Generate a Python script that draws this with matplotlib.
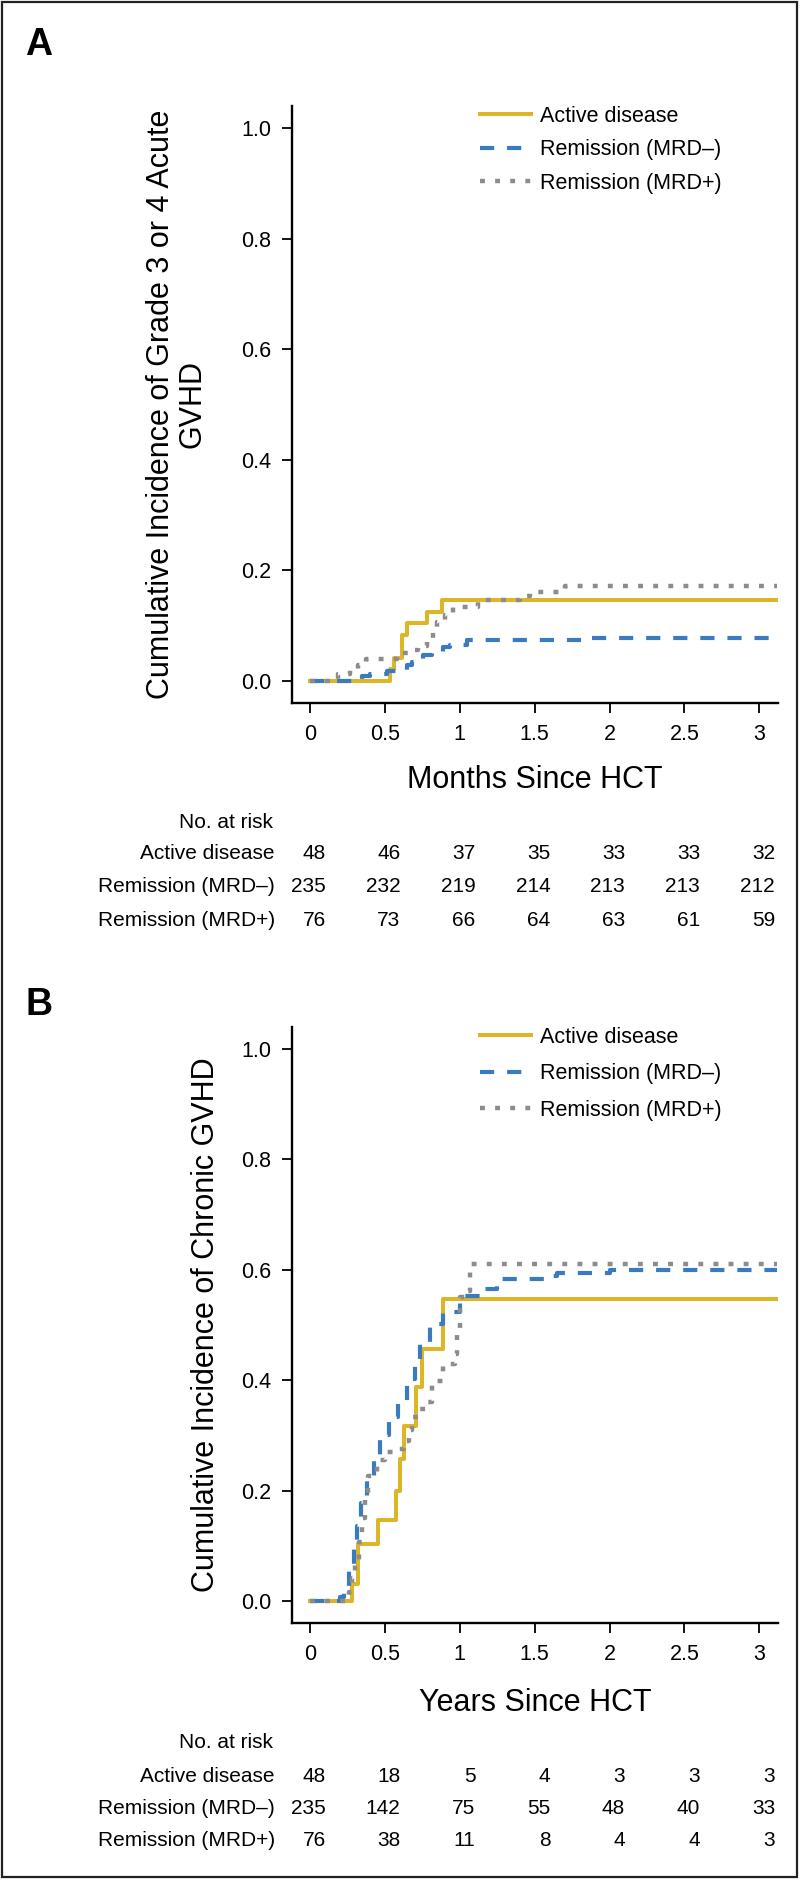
import matplotlib
matplotlib.use('Agg')
from matplotlib import pyplot as plt
from matplotlib.patches import Rectangle
from matplotlib.transforms import blended_transform_factory

plt.rcParams['font.family'] = ['Liberation Sans', 'DejaVu Sans']

# groups and styles
groups = ['Active disease', 'Remission (MRD\u2013)', 'Remission (MRD+)']
colors = ['#DDB628', '#3A7BC0', '#8C8C8C']

# axis ticks
x_ticks = [0, 0.5, 1, 1.5, 2, 2.5, 3]
x_ticklabels = ['0', '0.5', '1', '1.5', '2', '2.5', '3']
y_ticks = [0.0, 0.2, 0.4, 0.6, 0.8, 1.0]
y_ticklabels = ['0.0', '0.2', '0.4', '0.6', '0.8', '1.0']

# panel A: acute GVHD (months), step curves
a_active_t = [0, 0.534, 0.561, 0.612, 0.646, 0.779, 0.880, 3.12]
a_active_y = [0, 0.021, 0.042, 0.083, 0.104, 0.125, 0.146, 0.146]
a_neg_t = [0, 0.345, 0.401, 0.512, 0.646, 0.679, 0.757, 0.813, 0.891, 0.935, 1.047, 1.85, 3.12]
a_neg_y = [0, 0.009, 0.013, 0.017, 0.028, 0.034, 0.046, 0.052, 0.061, 0.065, 0.074, 0.078, 0.078]
a_pos_t = [0, 0.188, 0.267, 0.323, 0.374, 0.579, 0.657, 0.724, 0.779, 0.819, 0.846, 0.902,
           0.958, 1.124, 1.403, 1.470, 1.70, 3.12]
a_pos_y = [0, 0.013, 0.020, 0.028, 0.040, 0.050, 0.055, 0.063, 0.072, 0.088, 0.106, 0.119,
           0.133, 0.146, 0.154, 0.160, 0.172, 0.172]

# panel B: chronic GVHD (years)
b_active_t = [0, 0.278, 0.323, 0.456, 0.574, 0.601, 0.63, 0.708, 0.746, 0.886, 3.12]
b_active_y = [0, 0.031, 0.104, 0.146, 0.200, 0.258, 0.317, 0.387, 0.456, 0.547, 0.547]
b_neg_t = [0, 0.20, 0.225, 0.258, 0.292, 0.314, 0.341, 0.381, 0.426, 0.466, 0.526, 0.59, 0.646,
           0.701, 0.735, 0.802, 0.891, 1.002, 1.136, 1.247, 1.581, 1.648, 2.0, 3.12]
b_neg_y = [0, 0.008, 0.02, 0.06, 0.10, 0.136, 0.178, 0.217, 0.257, 0.30, 0.333, 0.356, 0.402,
           0.429, 0.468, 0.501, 0.523, 0.553, 0.565, 0.583, 0.589, 0.595, 0.60, 0.60]
b_pos_t = [0, 0.24, 0.258, 0.281, 0.303, 0.325, 0.348, 0.37, 0.39, 0.445, 0.50, 0.58, 0.625, 0.659,
           0.68, 0.726, 0.79, 0.813, 0.891, 0.969, 0.98, 1.002, 1.035, 1.069, 3.12]
b_pos_y = [0, 0.008, 0.017, 0.041, 0.065, 0.107, 0.15, 0.184, 0.227, 0.255, 0.27, 0.276, 0.29, 0.31,
           0.334, 0.348, 0.36, 0.399, 0.429, 0.447, 0.489, 0.55, 0.562, 0.61, 0.61]

# numbers at risk
a_risk_active = [48, 46, 37, 35, 33, 33, 32]
a_risk_neg = [235, 232, 219, 214, 213, 213, 212]
a_risk_pos = [76, 73, 66, 64, 63, 61, 59]
b_risk_active = [48, 18, 5, 4, 3, 3, 3]
b_risk_neg = [235, 142, 75, 55, 48, 40, 33]
b_risk_pos = [76, 38, 11, 8, 4, 4, 3]

W, H = 801, 1882
fig = plt.figure(figsize=(W / 100, H / 100), dpi=100)
fig.add_artist(Rectangle((2 / W, 1 - 1877 / H), 795 / W, 1875 / H, transform=fig.transFigure,
                         fill=False, lw=1.6, edgecolor='#222222'))

def fy(px):
    return 1 - px / H

styles = [dict(ls='-', lw=2.9),
          dict(ls=(0, (3.4, 3.1)), lw=3.0, dash_capstyle='butt'),
          dict(ls=(0, (1.1, 2.3)), lw=3.2, dash_capstyle='butt')]

def panel(top, bottom, letter, letter_y, curves, ylabel, ylabel_x, xlabel, risk, risk_y,
          leg_spacing):
    ax = fig.add_axes([292 / W, fy(bottom), 486 / W, (bottom - top) / H])
    for (t, y), col, st in zip(curves, colors, styles):
        ax.step(t, y, where='post', color=col, **st)
    hs = [plt.Line2D([], [], color=c, **s) for c, s in zip(colors, styles)]
    ax.legend(hs, groups, loc='upper left', bbox_to_anchor=(0.387, 1.0), frameon=False,
              fontsize=15.5, handlelength=2.35, handletextpad=0.45, labelspacing=leg_spacing,
              borderpad=0, borderaxespad=0)
    ax.set_xlim(-0.12, 3.125)
    ax.set_ylim(-0.04, 1.04)
    ax.set_xticks(x_ticks)
    ax.set_xticklabels(x_ticklabels)
    ax.set_yticks(y_ticks)
    ax.set_yticklabels(y_ticklabels)
    for s in ['top', 'right']:
        ax.spines[s].set_visible(False)
    for s in ['left', 'bottom']:
        ax.spines[s].set_linewidth(1.7)
    ax.tick_params(direction='out', length=7, width=1.3, labelsize=15.5, pad=8)
    ax.text(ylabel_x, 0.5, ylabel, rotation=90, ha='center', va='center', fontsize=22,
            linespacing=1.1, transform=ax.transAxes)
    ax.text(0.5, fy(xlabel[1]), xlabel[0], ha='center', va='center', fontsize=22,
            transform=blended_transform_factory(ax.transAxes, fig.transFigure))
    fig.text(25 / W, fy(letter_y), letter, fontsize=27, fontweight='bold', ha='left', va='center')

    tr = blended_transform_factory(ax.transData, fig.transFigure)
    fig.text(273 / W, fy(risk_y[0]), 'No. at risk', ha='right', va='center', fontsize=15)
    for name, row, yy in zip(groups, risk, risk_y[1:]):
        fig.text(275 / W, fy(yy), name, ha='right', va='center', fontsize=15)
        for t, n in zip(x_ticks, row):
            ax.text(t + 0.105, fy(yy), str(n), ha='right', va='center', fontsize=15, transform=tr)
    return ax

panel(106, 703, 'A', 45,
      [(a_active_t, a_active_y), (a_neg_t, a_neg_y), (a_pos_t, a_pos_y)],
      'Cumulative Incidence of Grade 3 or 4 Acute\nGVHD', -0.237,
      ('Months Since HCT', 780),
      [a_risk_active, a_risk_neg, a_risk_pos], [822, 854, 887, 920], 0.58)

panel(1027, 1623, 'B', 1005,
      [(b_active_t, b_active_y), (b_neg_t, b_neg_y), (b_pos_t, b_pos_y)],
      'Cumulative Incidence of Chronic GVHD', -0.177,
      ('Years Since HCT', 1703),
      [b_risk_active, b_risk_neg, b_risk_pos], [1742, 1776, 1808, 1840], 0.72)

fig.savefig('out.png', dpi=100)
